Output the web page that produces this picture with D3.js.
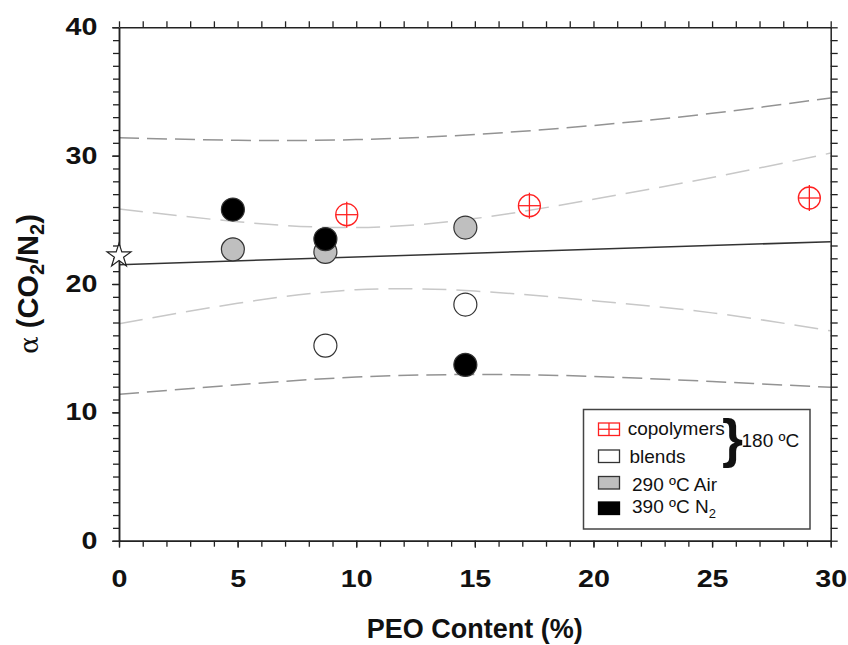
<!DOCTYPE html>
<html>
<head>
<meta charset="utf-8">
<script src="https://cdn.jsdelivr.net/npm/d3@7"></script>
<style>
  html, body { margin: 0; padding: 0; background: #fff; }
  svg { display: block; }
  text { font-family: "Liberation Sans", Arial, sans-serif; fill: #111; }
</style>
</head>
<body>
<svg id="chart" width="848" height="645"></svg>
<script>
// Selectivity alpha(CO2/N2) against PEO content
const peoPure = [0];
const alphaPure = [22.2];

const peoCopolymers = [9.6, 17.3, 29.1];
const alphaCopolymers = [25.4, 26.1, 26.7];

const peoBlends = [8.7, 14.6];
const alphaBlends = [15.2, 18.4];

const peoAir290 = [4.8, 8.7, 14.6];
const alphaAir290 = [22.7, 22.5, 24.4];

const peoN2390 = [4.8, 8.7, 14.6];
const alphaN2390 = [25.8, 23.5, 13.7];

// linear fit with its confidence and prediction bands
const fitPeo = [0, 30];
const fitAlpha = [21.5, 23.3];
const bandPeo = [0, 5, 10, 15, 20, 25, 30];
const confUpper = [25.85, 24.85, 24.4, 25.1, 26.6, 28.3, 30.2];
const confLower = [16.9, 18.5, 19.55, 19.45, 18.7, 17.75, 16.35];
const predUpper = [31.4, 31.2, 31.25, 31.65, 32.35, 33.3, 34.5];
const predLower = [11.4, 12.15, 12.75, 12.95, 12.8, 12.4, 11.95];

const xTicks = [0, 5, 10, 15, 20, 25, 30];
const yTicks = [0, 10, 20, 30, 40];

const legendLabels = ["copolymers", "blends", "290 ºC Air", "390 ºC N"];
const braceLabel = "180 ºC";

const svg = d3.select("#chart");
const plotLeft = 119, plotRight = 830.7, plotTop = 27.3, plotBottom = 540.7;

const x = d3.scaleLinear().domain([0, 30]).range([plotLeft, plotRight]);
const y = d3.scaleLinear().domain([0, 40]).range([plotBottom, plotTop]);

const axisColor = "#222";

// ---- bands and fit line
const zip = (xs, ys) => xs.map((v, i) => [v, ys[i]]);
const line = d3.line().x(d => x(d[0])).y(d => y(d[1])).curve(d3.curveNatural);

const bandGroup = svg.append("g").attr("fill", "none").attr("stroke-width", 1.5);
[predUpper, predLower].forEach(vals => {
  bandGroup.append("path")
    .attr("d", line(zip(bandPeo, vals)))
    .attr("stroke", "#939393")
    .attr("stroke-dasharray", "20,8");
});
[confUpper, confLower].forEach(vals => {
  bandGroup.append("path")
    .attr("d", line(zip(bandPeo, vals)))
    .attr("stroke", "#c8c8c8")
    .attr("stroke-dasharray", "24,10");
});
svg.append("path")
  .attr("d", d3.line().x(d => x(d[0])).y(d => y(d[1]))(zip(fitPeo, fitAlpha)))
  .attr("fill", "none")
  .attr("stroke", "#333")
  .attr("stroke-width", 1.5);

// ---- axes
const labelStretch = 1.22;
function styleAxis(g) {
  g.selectAll("path.domain").attr("stroke", axisColor).attr("stroke-width", 1.5);
  g.selectAll(".tick line").attr("stroke", axisColor).attr("stroke-width", 1.3);
  g.selectAll(".tick text")
    .attr("font-family", '"Liberation Sans", Arial, sans-serif')
    .attr("font-weight", "bold")
    .attr("font-size", 23.5)
    .attr("fill", "#111")
    .each(function () {
      // widen the tick numerals around their anchor point
      const t = d3.select(this);
      const tx = +t.attr("x") || 0, ty = +t.attr("y") || 0;
      t.attr("x", 0).attr("y", 0)
        .attr("transform", `translate(${tx},${ty}) scale(${labelStretch},1)`);
    });
}

const minorX = d3.range(0, 31);
const minorY = d3.range(0, 41);

svg.append("g").attr("transform", `translate(0,${plotBottom})`)
  .call(d3.axisBottom(x).tickValues(minorX).tickSize(6).tickSizeOuter(0).tickFormat(""))
  .call(styleAxis);
svg.append("g").attr("transform", `translate(0,${plotBottom})`)
  .call(d3.axisBottom(x).tickValues(xTicks).tickSize(7).tickSizeOuter(0).tickPadding(22.5).tickFormat(d3.format("d")))
  .call(styleAxis);
svg.append("g").attr("transform", `translate(0,${plotTop})`)
  .call(d3.axisTop(x).tickValues(minorX).tickSize(6).tickSizeOuter(0).tickFormat(""))
  .call(styleAxis);
svg.append("g").attr("transform", `translate(${plotLeft},0)`)
  .call(d3.axisLeft(y).tickValues(minorY).tickSize(6).tickSizeOuter(0).tickFormat(""))
  .call(styleAxis);
svg.append("g").attr("transform", `translate(${plotLeft},0)`)
  .call(d3.axisLeft(y).tickValues(yTicks).tickSize(7).tickSizeOuter(0).tickPadding(14.5).tickFormat(d3.format("d")))
  .call(styleAxis);
svg.append("g").attr("transform", `translate(${plotRight},0)`)
  .call(d3.axisRight(y).tickValues(minorY).tickSize(7).tickSizeOuter(0).tickFormat(""))
  .call(styleAxis);

// ---- axis titles
svg.append("text")
  .attr("x", (plotLeft + plotRight) / 2)
  .attr("y", 638)
  .attr("text-anchor", "middle")
  .attr("font-weight", "bold")
  .attr("font-size", 27)
  .text("PEO Content (%)");

const yTitle = svg.append("text")
  .attr("transform", `translate(38,${(plotTop + plotBottom) / 2}) rotate(-90)`)
  .attr("text-anchor", "middle")
  .attr("font-weight", "bold")
  .attr("font-size", 29);
yTitle.append("tspan").attr("font-family", '"DejaVu Serif", "Liberation Serif", serif')
  .attr("font-weight", "normal").attr("font-size", 26).text("α");
yTitle.append("tspan").text(" (CO");
yTitle.append("tspan").attr("font-size", 20).attr("dy", 6).text("2");
yTitle.append("tspan").attr("dy", -6).text("/N");
yTitle.append("tspan").attr("font-size", 20).attr("dy", 6).text("2");
yTitle.append("tspan").attr("dy", -6).text(")");

// ---- data points
const R = 11.5;
function circles(xs, ys, fill) {
  svg.append("g").selectAll("circle")
    .data(zip(xs, ys))
    .join("circle")
    .attr("cx", d => x(d[0]))
    .attr("cy", d => y(d[1]))
    .attr("r", R)
    .attr("fill", fill)
    .attr("stroke", "#333")
    .attr("stroke-width", 1.2);
}
circles(peoBlends, alphaBlends, "#fff");
circles(peoAir290, alphaAir290, "#bfbfbf");
circles(peoN2390, alphaN2390, "#000");

const red = "#ff2020";
const cop = svg.append("g").selectAll("g")
  .data(zip(peoCopolymers, alphaCopolymers))
  .join("g")
  .attr("transform", d => `translate(${x(d[0])},${y(d[1])})`)
  .attr("stroke", red)
  .attr("stroke-width", 1.3)
  .attr("fill", "none");
cop.append("circle").attr("r", 11);
cop.append("line").attr("x1", -11).attr("x2", 11);
cop.append("line").attr("y1", -13).attr("y2", 13);

svg.append("g").selectAll("path")
  .data(zip(peoPure, alphaPure))
  .join("path")
  .attr("transform", d => `translate(${x(d[0])},${y(d[1])})`)
  .attr("d", d3.symbol(d3.symbolStar, 178)())
  .attr("fill", "#fff")
  .attr("stroke", "#222")
  .attr("stroke-width", 1.2);

// ---- legend
const lg = svg.append("g");
lg.append("rect")
  .attr("x", 583.5).attr("y", 409.5).attr("width", 226.5).attr("height", 119.5)
  .attr("fill", "#fff").attr("stroke", "#444").attr("stroke-width", 1.5);

const swX = 598.5, swW = 21, swH = 12.5;
const rows = [
  { sy: 423, ty: 435, tx: 627.7 },
  { sy: 450, ty: 462.5, tx: 629.5 },
  { sy: 476.5, ty: 490.5, tx: 632 },
  { sy: 502, ty: 513, tx: 632 }
];
// copolymers swatch: box with a cross
const s0 = lg.append("g").attr("stroke", red).attr("stroke-width", 1.3).attr("fill", "none");
s0.append("rect").attr("x", swX).attr("y", rows[0].sy).attr("width", swW).attr("height", swH);
s0.append("line").attr("x1", swX).attr("x2", swX + swW).attr("y1", rows[0].sy + swH / 2).attr("y2", rows[0].sy + swH / 2);
s0.append("line").attr("x1", swX + swW / 2).attr("x2", swX + swW / 2).attr("y1", rows[0].sy).attr("y2", rows[0].sy + swH);

[["#fff", "#333"], ["#bfbfbf", "#333"], ["#000", "#000"]].forEach((c, i) => {
  lg.append("rect")
    .attr("x", swX).attr("y", rows[i + 1].sy).attr("width", swW).attr("height", swH)
    .attr("fill", c[0]).attr("stroke", c[1]).attr("stroke-width", 1.3);
});

legendLabels.forEach((t, i) => {
  const tx = lg.append("text")
    .attr("x", rows[i].tx).attr("y", rows[i].ty)
    .attr("font-size", 19).attr("fill", "#1a1a1a")
    .text(t);
  if (i === 3) tx.append("tspan").attr("font-size", 13).attr("dy", 5).text("2");
});

// brace grouping the two 180 ºC rows
lg.append("text")
  .attr("x", 722).attr("y", 457)
  .attr("font-size", 54).attr("font-weight", "bold").attr("fill", "#000")
  .text("}");
lg.append("text")
  .attr("x", 741.5).attr("y", 447)
  .attr("font-size", 19).attr("fill", "#1a1a1a")
  .text(braceLabel);
</script>
</body>
</html>
